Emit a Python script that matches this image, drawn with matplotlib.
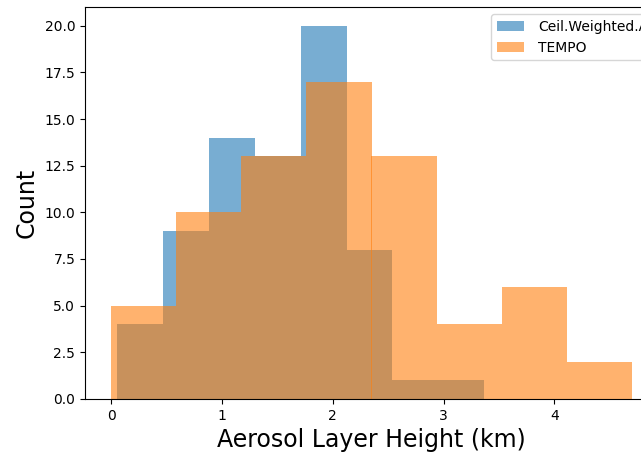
import matplotlib.pyplot as plt
import numpy as np

# histogram bin edges (km) and counts
ceil_edges = np.linspace(0.057, 3.366, 9)
ceil_counts = [4, 9, 14, 13, 20, 8, 1, 1]
tempo_edges = np.linspace(0.0, 4.70, 9)
tempo_counts = [5, 10, 13, 17, 13, 4, 6, 2]

fig = plt.figure(figsize=(6.41, 4.53), dpi=100)
# the original figure is cropped on the right, so the axes runs past the edge
ax = fig.add_axes([85 / 641, 54 / 453, 573 / 641, 392 / 453])

ax.hist(ceil_edges[:-1], bins=ceil_edges, weights=ceil_counts, alpha=0.6,
        label='Ceil.Weighted.ALH')
ax.hist(tempo_edges[:-1], bins=tempo_edges, weights=tempo_counts, alpha=0.6,
        label='TEMPO')

ax.set_xlabel('Aerosol Layer Height (km)', fontsize=17)
ax.set_ylabel('Count', fontsize=17)
ax.legend(loc='upper left', bbox_to_anchor=(491 / 641, 1 - 14 / 453),
          bbox_transform=fig.transFigure, borderaxespad=0, handletextpad=1.0)

fig.savefig('out.png', dpi=100)
